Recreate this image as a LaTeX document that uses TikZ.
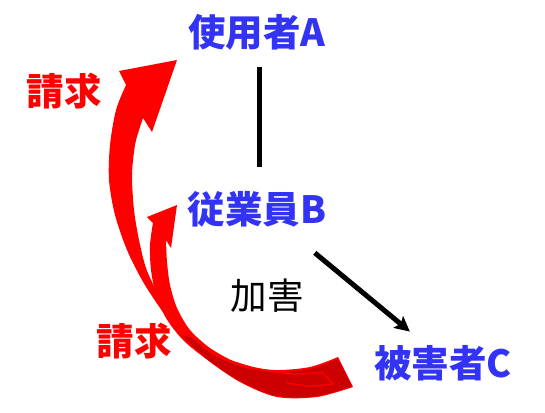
\documentclass[tikz,border=0pt]{standalone}
\usepackage{fontspec}
\newfontfamily\cjk{Noto Sans CJK JP}
\usetikzlibrary{arrows.meta}
\definecolor{myblue}{RGB}{51,51,245}
\definecolor{brightred}{RGB}{255,0,0}
\definecolor{darkred}{RGB}{204,0,0}
\begin{document}
\begin{tikzpicture}[x=1pt,y=-1pt,
  lbl/.style={font=\cjk\bfseries\fontsize{37.5}{42}\selectfont, inner sep=0pt, anchor=base, text height=31pt, text depth=3pt},
  party/.style={lbl, text=myblue},
  claim/.style={lbl, text=brightred},
  harm/.style={font=\cjk\fontsize{36.5}{42}\selectfont, inner sep=0pt, anchor=base, text=black},
  link/.style={line width=5pt, draw=black},
  ribbon/.style={fill=brightred},
  ribbondark/.style={fill=darkred},
  ribbonedge/.style={draw=brightred, line width=1.3pt}]
\useasboundingbox (0,0) rectangle (545,412);

% outer ribbon arrow (to A)
\fill[ribbon] (177,60) -- (119,71) -- (126,85)
  -- plot[smooth] coordinates {(126,85) (116,110) (110,145) (109,180) (115,215) (127,250) (142,280) (158,305) (178,332) (205,358) (240,382) (277,397) (317,397) (353,387)}
  -- (338,357)
  -- plot[smooth] coordinates {(338,357) (310,367) (275,370) (242,365) (212,353) (188,335) (170,315) (157,292) (146,268) (139,240) (134,210) (132,175) (135,145) (140,127) (143,118)}
  -- (152,132) -- cycle;

% inner ribbon arrow (to B)
\fill[ribbon] (177,205) -- (147,217) -- (153,223)
  -- plot[smooth] coordinates {(153,223) (150,245) (151,270) (156,295) (166,318) (183,340) (208,360) (240,378) (280,389) (335,385)}
  -- (327,372)
  -- plot[smooth] coordinates {(327,372) (295,374) (262,371) (235,362) (210,348) (190,330) (177,308) (170,285) (167,262) (166,240)}
  -- (171,248) -- cycle;

% dark back face of the ribbons
\fill[ribbondark] plot[smooth] coordinates {(180,334) (207,359) (240,381) (277,396) (317,396) (352,386)}
  -- (338,359)
  -- plot[smooth] coordinates {(338,359) (310,369) (275,372) (242,367) (213,355) (192,338)} -- cycle;
\draw[ribbonedge] plot[smooth] coordinates {(222,358) (255,368) (292,374) (322,372)} -- (333,384)
  -- plot[smooth] coordinates {(333,384) (310,386) (287,383)};

% labels
\node[party] (A) at (257,47) {使用者A};
\node[party] (B) at (257,223) {従業員B};
\node[party] (C) at (443,377) {被害者C};
\node[claim] (r1) at (64,105) {請求};
\node[claim] (r2) at (134,355) {請求};
\node[harm] (h) at (267,309) {加害};

% connectors
\draw[link, shorten <=34pt, shorten >=42pt] ([xshift=2pt]A.center) -- ([xshift=2pt]B.center);
\draw[link, -{Stealth[length=15pt,width=15pt,inset=3pt]}, shorten <=75pt, shorten >=43pt] ([yshift=4pt]B.center) -- ([yshift=4pt]C.center);
\end{tikzpicture}
\end{document}
